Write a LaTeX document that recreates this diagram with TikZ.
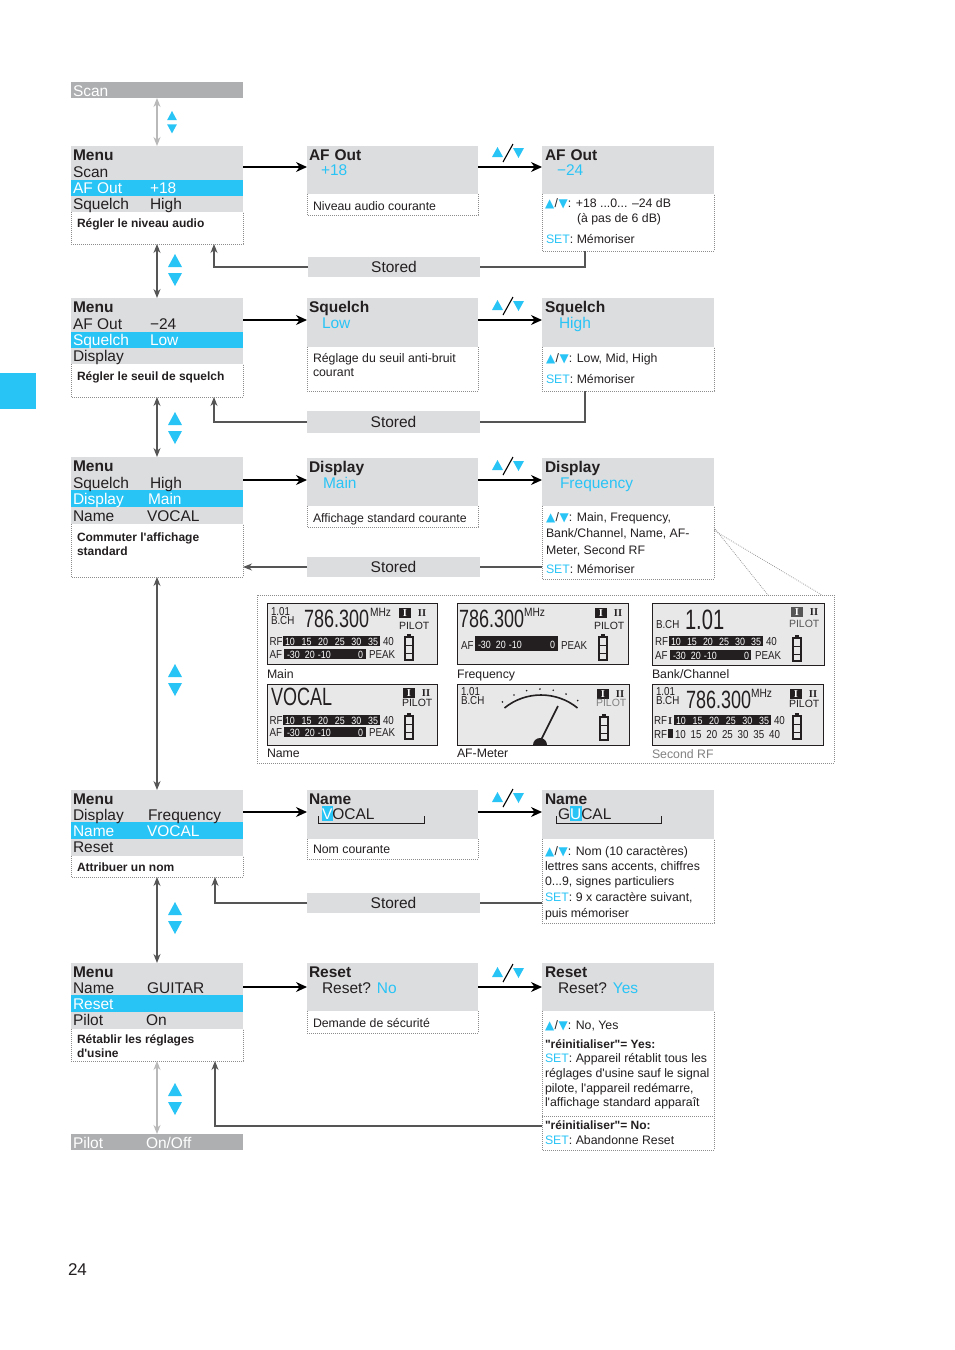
\documentclass[tikz,border=0pt]{standalone}
\usepackage{fontspec}
\setmainfont{Liberation Sans}
\newfontfamily\symf{DejaVu Sans}
\newfontfamily\serf{Liberation Serif}
\newfontfamily\lcdn[FakeStretch=0.72]{Liberation Sans}
\newfontfamily\lcds[FakeStretch=0.85]{Liberation Sans}
\usetikzlibrary{arrows.meta}
\definecolor{cblue}{RGB}{41,196,246}
\definecolor{cgrey}{RGB}{220,221,223}
\definecolor{cdark}{RGB}{35,31,32}
\definecolor{cbar}{RGB}{174,175,177}
\definecolor{cline}{RGB}{85,85,85}
\definecolor{cdot}{RGB}{140,140,140}
\definecolor{clcd}{RGB}{232,232,233}
\definecolor{clight}{RGB}{185,185,185}
\definecolor{cgtxt}{RGB}{130,130,130}
\newcounter{tn}
\newcommand\putt[4][]{\stepcounter{tn}\node[txt,#1] (t\number\value{tn}) at (#2,#3) {#4};}
\newcommand\upt{{\symf\fontsize{12}{12}\selectfont\color{cblue}▲}}
\newcommand\dnt{{\symf\fontsize{12}{12}\selectfont\color{cblue}▼}}
\newcommand\ud{\upt\kern0.5pt/\kern0.5pt\dnt}
\newcommand\setk{{\color{cblue}SET}}
\newcommand\qs{\textquotesingle}
\newcommand\qd{\textquotedbl}
\newcommand\dborder[1]{\draw[dotl] (#1.north west) -- (#1.south west) -- (#1.south east) -- (#1.north east);}
\newcommand\rfn[1]{\makebox[#1pt][s]{10 15 20 25 30 35}}
\newcommand\afn[1]{\makebox[#1pt]{-30\hspace{5pt}20\hspace{3pt}-10\hfill 0}}
\newcommand\lcdbox[2]{\fill[clcd] (0,0) rectangle (#1,#2); \draw[cdark,line width=1pt] (0,0) rectangle (#1,#2);}
\newcommand\ibox[3]{\fill[#3] (#1,#2) rectangle ++(12,10); \putt[anchor=center,iser,text=white]{#1+6}{#2+5.3}{I}\putt[anchor=center,iser]{#1+23}{#2+5.3}{II}}
\tikzset{
  txt/.style={anchor=base west, inner sep=0pt, outer sep=0pt, text=cdark, font=\fontsize{15.5}{18}\selectfont},
  ttl/.style={font=\bfseries\fontsize{15.5}{18}\selectfont},
  dsc/.style={font=\fontsize{12.3}{14}\selectfont},
  dscb/.style={font=\bfseries\fontsize{12}{14}\selectfont},
  lsm/.style={font=\lcds\fontsize{11.5}{11.5}\selectfont},
  lpil/.style={font=\fontsize{10.5}{10.5}\selectfont},
  lmhz/.style={font=\lcds\fontsize{12}{12}\selectfont},
  lbig/.style={font=\lcdn\fontsize{25}{25}\selectfont},
  lbarw/.style={font=\lcds\fontsize{10.5}{10.5}\selectfont, text=white},
  iser/.style={font=\serf\bfseries\fontsize{10.5}{10.5}\selectfont},
  gbox/.style={fill=cgrey, draw=none, anchor=north west, inner sep=0pt, outer sep=0pt, font=\fontsize{15.5}{18}\selectfont, text=cdark},
  gbar/.style={fill=cbar, draw=none, anchor=north west, inner sep=0pt, outer sep=0pt},
  dpart/.style={draw=none, anchor=north west, inner sep=0pt, outer sep=0pt},
  dotl/.style={draw=cdot, line width=0.7pt, dash pattern=on 0.8pt off 1.2pt},
  harr/.style={draw=black, line width=1.1pt, -{Stealth[length=11pt,width=10pt]}},
  rline/.style={draw=cline, line width=1.1pt},
  rarr/.style={rline, -{Stealth[length=9pt,width=7pt]}},
  dblarr/.style={rline, {Stealth[length=9pt,width=7pt]}-{Stealth[length=9pt,width=7pt]}},
  tris/.pic={\fill[cblue] (-7,13) -- (7,13) -- (0,0) -- cycle; \fill[cblue] (-7,19) -- (7,19) -- (0,32) -- cycle;},
  udlabel/.pic={\fill[cblue] (-16,5) -- (-5,5) -- (-10.5,-5) -- cycle; \draw[black, line width=1.1pt] (-5,10) -- (5,-8); \fill[cblue] (5,-4) -- (16,-4) -- (10.5,6) -- cycle;},
  batt/.pic={\fill[cdark] (3,0) rectangle (7,2.5); \fill[cdark] (0,2) rectangle (10,27); \fill[clcd] (2,4) rectangle (8,10.5); \fill[clcd] (2,12) rectangle (8,18.5); \fill[clcd] (2,20) rectangle (8,25);}
}
\begin{document}
\begin{tikzpicture}[x=1pt,y=-1pt]
\useasboundingbox (0,0) rectangle (954,1350);
\fill[white] (0,0) rectangle (954,1350);
\fill[cblue] (0,373) rectangle (36,409);
\putt[font=\fontsize{17}{17}\selectfont]{68}{1275}{24}

% ===== Section 1 : AF Out
\node[gbar, minimum width=172, minimum height=16] (scan) at (71,82) {};
\putt[text=white]{73}{96}{Scan}
\node[gbox, minimum width=172, minimum height=66] (m1) at (71,146) {};
\fill[cblue] (71,180) rectangle (243,196);
\putt[ttl]{73}{160}{Menu}
\putt{73}{177}{Scan}
\putt[text=white]{73}{193}{AF Out}
\putt[text=white]{150}{193}{+18}
\putt{73}{209}{Squelch}
\putt{150}{209}{High}
\node[dpart, minimum width=172, minimum height=32] (d1) at (71,212) {};
\dborder{d1}
\putt[dscb]{77}{227}{Régler le niveau audio}
\node[gbox, minimum width=171, minimum height=48] (a1) at (307,146) {};
\node[dpart, minimum width=171, minimum height=21] (a1d) at (307,194) {};
\dborder{a1d}
\putt[ttl]{309}{160}{AF\hspace{5pt}Out}
\putt[text=cblue]{321}{175}{+18}
\putt[dsc]{313}{210}{Niveau audio courante}
\node[gbox, minimum width=172, minimum height=48] (b1) at (542,146) {};
\node[dpart, minimum width=172, minimum height=57] (b1d) at (542,194) {};
\dborder{b1d}
\putt[ttl]{545}{160}{AF\hspace{5pt}Out}
\putt[text=cblue]{557}{175}{−24}
\putt[dsc]{545}{207}{\ud: +18 ...0... –24 dB}
\putt[dsc]{577}{222}{(à pas de 6 dB)}
\putt[dsc]{546}{243}{\setk: Mémoriser}
\node[gbox, minimum width=172, minimum height=20] (s1) at (308,257) {Stored};
\coordinate (r1) at (0,167);
\draw[harr] (m1.east |- r1) -- (a1.west |- r1);
\draw[harr] (a1.east |- r1) -- (b1.west |- r1);
\pic at (508,152) {udlabel};
\draw[rline] ([xshift=-43pt]b1d.south) |- (s1.east);
\draw[rarr] (s1.west) -| ([xshift=57pt]d1.south);
\draw[dblarr, draw=clight] (scan.south) -- (m1.north);
\pic[scale=0.7] at (172,111) {tris};
\draw[dblarr] (d1.south) -- (157,298);
\pic at (175,254) {tris};

% ===== Section 2 : Squelch
\node[gbox, minimum width=172, minimum height=66] (m2) at (71,298) {};
\fill[cblue] (71,332) rectangle (243,348);
\putt[ttl]{73}{312}{Menu}
\putt{73}{329}{AF Out}
\putt{150}{329}{−24}
\putt[text=white]{73}{345}{Squelch}
\putt[text=white]{150}{345}{Low}
\putt{73}{361}{Display}
\node[dpart, minimum width=172, minimum height=33] (d2) at (71,364) {};
\dborder{d2}
\putt[dscb]{77}{380}{Régler le seuil de squelch}
\node[gbox, minimum width=171, minimum height=49] (a2) at (307,298) {};
\node[dpart, minimum width=171, minimum height=44] (a2d) at (307,347) {};
\dborder{a2d}
\putt[ttl]{309}{312}{Squelch}
\putt[text=cblue]{322}{328}{Low}
\putt[dsc]{313}{362}{Réglage du seuil anti-bruit}
\putt[dsc]{313}{376}{courant}
\node[gbox, minimum width=172, minimum height=49] (b2) at (542,298) {};
\node[dpart, minimum width=172, minimum height=44] (b2d) at (542,347) {};
\dborder{b2d}
\putt[ttl]{545}{312}{Squelch}
\putt[text=cblue]{559}{328}{High}
\putt[dsc]{546}{362}{\ud: Low, Mid, High}
\putt[dsc]{546}{383}{\setk: Mémoriser}
\node[gbox, minimum width=173, minimum height=22] (s2) at (307,411) {Stored};
\coordinate (r2) at (0,320);
\draw[harr] (m2.east |- r2) -- (a2.west |- r2);
\draw[harr] (a2.east |- r2) -- (b2.west |- r2);
\pic at (508,305) {udlabel};
\draw[rline] ([xshift=-43pt]b2d.south) |- (s2.east);
\draw[rarr] (s2.west) -| ([xshift=57pt]d2.south);
\draw[dblarr] (d2.south) -- (157,457);
\pic at (175,412) {tris};

% ===== Section 3 : Display
\node[gbox, minimum width=172, minimum height=67] (m3) at (71,457) {};
\fill[cblue] (71,490) rectangle (243,507);
\putt[ttl]{73}{471}{Menu}
\putt{73}{488}{Squelch}
\putt{150}{488}{High}
\putt[text=white]{73}{504}{Display}
\putt[text=white]{148}{504}{Main}
\putt{73}{521}{Name}
\putt{147}{521}{VOCAL}
\node[dpart, minimum width=172, minimum height=53] (d3) at (71,524) {};
\dborder{d3}
\putt[dscb]{77}{541}{Commuter l\qs affichage}
\putt[dscb]{77}{555}{standard}
\node[gbox, minimum width=171, minimum height=48] (a3) at (307,458) {};
\node[dpart, minimum width=171, minimum height=21] (a3d) at (307,506) {};
\dborder{a3d}
\putt[ttl]{309}{472}{Display}
\putt[text=cblue]{323}{488}{Main}
\putt[dsc]{313}{522}{Affichage standard courante}
\node[gbox, minimum width=172, minimum height=48] (b3) at (542,458) {};
\node[dpart, minimum width=172, minimum height=73] (b3d) at (542,506) {};
\dborder{b3d}
\putt[ttl]{545}{472}{Display}
\putt[text=cblue]{560}{488}{Frequency}
\putt[dsc]{546}{521}{\ud: Main, Frequency,}
\putt[dsc]{546}{537}{Bank/Channel, Name, AF-}
\putt[dsc]{546}{554}{Meter, Second RF}
\putt[dsc]{546}{573}{\setk: Mémoriser}
\node[gbox, minimum width=173, minimum height=20] (s3) at (307,557) {Stored};
\coordinate (r3) at (0,480);
\draw[harr] (m3.east |- r3) -- (a3.west |- r3);
\draw[harr] (a3.east |- r3) -- (b3.west |- r3);
\pic at (508,465) {udlabel};
\draw[rline] (b3d.west |- s3.east) -- (s3.east);
\draw[rarr] (s3.west) -- (d3.east |- s3.west);
\draw[dblarr] (d3.south) -- (157,790);
\pic at (175,664) {tris};

% ===== LCD panel
\coordinate (lz1) at (768,595);
\coordinate (lz2) at (822,595);
\draw[dotl] (257,595) rectangle (834,763);
\draw[dotl] ([yshift=15pt]b3d.east) -- (lz1);
\draw[dotl] ([yshift=12pt]b3d.east) -- (lz2);

% Main
\begin{scope}[shift={(267,603)}]
\lcdbox{170}{61}
\putt[lsm]{4}{12}{1.01}
\putt[lsm]{4}{21}{B.CH}
\putt[lbig]{37}{24}{786.300}
\putt[lmhz]{103}{13}{MHz}
\ibox{132}{5}{cdark}
\putt[lpil]{132}{26}{PILOT}
\pic at (137,31) {batt};
\putt[lsm]{2.5}{42}{RF}
\fill[cdark] (16,33) rectangle (113,43);
\putt[lbarw]{18}{42}{\rfn{93}}
\putt[lsm]{116}{42}{40}
\putt[lsm]{2.5}{55.5}{AF}
\fill[cdark] (17,46) rectangle (99,56);
\putt[lbarw]{20}{55}{\afn{76}}
\putt[lsm]{102}{55.5}{PEAK}
\end{scope}
\putt[dsc]{267}{678}{Main}

% Name
\begin{scope}[shift={(267,684)}]
\lcdbox{170}{61}
\putt[font=\lcdn\fontsize{25}{25}\selectfont]{4}{21}{VOCAL}
\ibox{136}{4}{cdark}
\putt[lpil]{135}{22}{PILOT}
\pic at (137,29) {batt};
\putt[lsm]{2.5}{40}{RF}
\fill[cdark] (16,31) rectangle (113,41);
\putt[lbarw]{18}{40}{\rfn{93}}
\putt[lsm]{116}{40}{40}
\putt[lsm]{2.5}{52.5}{AF}
\fill[cdark] (17,43) rectangle (99,53);
\putt[lbarw]{20}{52}{\afn{76}}
\putt[lsm]{102}{52.5}{PEAK}
\end{scope}
\putt[dsc]{267}{757}{Name}

% Frequency
\begin{scope}[shift={(457,603)}]
\lcdbox{171}{61}
\putt[lbig]{2}{24}{786.300}
\putt[lmhz]{67}{13}{MHz}
\ibox{138}{5}{cdark}
\putt[lpil]{137}{26}{PILOT}
\pic at (141,31) {batt};
\putt[lsm]{4}{46}{AF}
\fill[cdark] (18,33) rectangle (101,48);
\putt[lbarw]{21}{45}{\afn{77}}
\putt[lsm]{104}{46}{PEAK}
\end{scope}
\putt[dsc]{457}{678}{Frequency}

% AF-Meter
\begin{scope}[shift={(457,684)}]
\lcdbox{172}{61}
\putt[lsm]{4}{11}{1.01}
\putt[lsm]{4}{20}{B.CH}
\draw[cdark, line width=1.6pt] (84,69) ++(-129:58) arc (-129:-51:58);
\foreach \a in {-127,-115,-103,-91,-79,-67,-55} {\fill[cdark] (84,69) ++(\a:64) circle (0.9);}
\draw[cdark, line width=1.6pt] (83,58) -- (101,22);
\fill[cdark] (76,61) arc (180:360:7) -- cycle;
\ibox{140}{5}{cdark}
\putt[lpil,text=cgtxt]{139}{22}{PILOT}
\pic at (142,30) {batt};
\end{scope}
\putt[dsc]{457}{757}{AF-Meter}

% Bank/Channel
\begin{scope}[shift={(652,603)}]
\lcdbox{172}{62}
\putt[lsm]{4}{25}{B.CH}
\putt[font=\lcdn\fontsize{28}{28}\selectfont]{33}{26}{1.01}
\ibox{139}{4}{cline}
\putt[lpil,text=cline]{137}{24}{PILOT}
\pic at (140,32) {batt};
\putt[lsm]{3}{42}{RF}
\fill[cdark] (17,33) rectangle (111,43);
\putt[lbarw]{19}{42}{\rfn{90}}
\putt[lsm]{114}{42}{40}
\putt[lsm]{3}{56.5}{AF}
\fill[cdark] (18,47) rectangle (99,57);
\putt[lbarw]{21}{56}{\afn{76}}
\putt[lsm]{103}{56.5}{PEAK}
\end{scope}
\putt[dsc]{652}{678}{Bank/Channel}

% Second RF
\begin{scope}[shift={(652,684)}]
\lcdbox{171}{61}
\putt[lsm]{4}{11}{1.01}
\putt[lsm]{4}{20}{B.CH}
\putt[lbig]{34}{24}{786.300}
\putt[lmhz]{99}{13}{MHz}
\ibox{138}{5}{cdark}
\putt[lpil]{137}{23}{PILOT}
\pic at (140,29) {batt};
\putt[lsm]{2}{40}{RF}
\putt[iser]{16}{40}{I}
\fill[cdark] (22,31) rectangle (119,41);
\putt[lbarw]{24}{40}{\rfn{93}}
\putt[lsm]{122}{40}{40}
\putt[lsm]{2}{54}{RF}
\fill[cdark] (16,45) rectangle (21,54);
\putt[lsm]{23}{54}{\makebox[105pt][s]{10 15 20 25 30 35 40}}
\end{scope}
\putt[dsc,text=cgtxt]{652}{758}{Second RF}

% ===== Section 5 : Name
\node[gbox, minimum width=172, minimum height=66] (m5) at (71,790) {};
\fill[cblue] (71,822) rectangle (243,839);
\putt[ttl]{73}{804}{Menu}
\putt{73}{820}{Display}
\putt{148}{820}{Frequency}
\putt[text=white]{73}{836}{Name}
\putt[text=white]{147}{836}{VOCAL}
\putt{73}{852}{Reset}
\node[dpart, minimum width=172, minimum height=21] (d5) at (71,856) {};
\dborder{d5}
\putt[dscb]{77}{871}{Attribuer un nom}
\node[gbox, minimum width=171, minimum height=49] (a5) at (307,790) {};
\node[dpart, minimum width=171, minimum height=20] (a5d) at (307,839) {};
\dborder{a5d}
\putt[ttl]{309}{804}{Name}
\fill[cblue] (321.5,806) rectangle (333,821);
\putt{322}{819}{{\color{white}V}OCAL}
\draw[cdark, line width=1pt] (318,816) -- (318,823) -- (424,823) -- (424,816);
\putt[dsc]{313}{853}{Nom courante}
\node[gbox, minimum width=172, minimum height=49] (b5) at (542,790) {};
\node[dpart, minimum width=172, minimum height=84] (b5d) at (542,839) {};
\dborder{b5d}
\putt[ttl]{545}{804}{Name}
\fill[cblue] (569.5,806) rectangle (582,821);
\putt{558}{819}{G{\color{white}U}CAL}
\draw[cdark, line width=1pt] (556,816) -- (556,823) -- (661,823) -- (661,816);
\putt[dsc]{545}{855}{\ud: Nom (10 caractères)}
\putt[dsc]{545}{870}{lettres sans accents, chiffres}
\putt[dsc]{545}{885}{0...9, signes particuliers}
\putt[dsc]{545}{901}{\setk: 9 x caractère suivant,}
\putt[dsc]{545}{917}{puis mémoriser}
\node[gbox, minimum width=173, minimum height=20] (s5) at (307,893) {Stored};
\coordinate (r5) at (0,812);
\draw[harr] (m5.east |- r5) -- (a5.west |- r5);
\draw[harr] (a5.east |- r5) -- (b5.west |- r5);
\pic at (508,797) {udlabel};
\draw[rline] (b5d.west |- s5.east) -- (s5.east);
\draw[rarr] (s5.west) -| ([xshift=58pt]d5.south);
\draw[dblarr] (d5.south) -- (157,963);
\pic at (175,902) {tris};

% ===== Section 6 : Reset
\node[gbox, minimum width=172, minimum height=66] (m6) at (71,963) {};
\fill[cblue] (71,995) rectangle (243,1012);
\putt[ttl]{73}{977}{Menu}
\putt{73}{993}{Name}
\putt{147}{993}{GUITAR}
\putt[text=white]{73}{1009}{Reset}
\putt{73}{1025}{Pilot}
\putt{146}{1025}{On}
\node[dpart, minimum width=172, minimum height=32] (d6) at (71,1029) {};
\dborder{d6}
\putt[dscb]{77}{1043}{Rétablir les réglages}
\putt[dscb]{77}{1057}{d\qs usine}
\node[gbox, minimum width=171, minimum height=48] (a6) at (307,963) {};
\node[dpart, minimum width=171, minimum height=22] (a6d) at (307,1011) {};
\dborder{a6d}
\putt[ttl]{309}{977}{Reset}
\putt{322}{993}{Reset? {\color{cblue}No}}
\putt[dsc]{313}{1027}{Demande de sécurité}
\node[gbox, minimum width=172, minimum height=48] (b6) at (542,963) {};
\node[dpart, minimum width=172, minimum height=139] (b6d) at (542,1011) {};
\dborder{b6d}
\draw[dotl] (542,1116) -- (714,1116);
\putt[ttl]{545}{977}{Reset}
\putt{558}{993}{Reset? {\color{cblue}Yes}}
\putt[dsc]{545}{1029}{\ud: No, Yes}
\putt[dscb]{545}{1048}{\qd réinitialiser\qd= Yes:}
\putt[dsc]{545}{1062}{\setk: Appareil rétablit tous les}
\putt[dsc]{545}{1077}{réglages d\qs usine sauf le signal}
\putt[dsc]{545}{1092}{pilote, l\qs appareil redémarre,}
\putt[dsc]{545}{1106}{l\qs affichage standard apparaît}
\putt[dscb]{545}{1129}{\qd réinitialiser\qd= No:}
\putt[dsc]{545}{1144}{\setk: Abandonne Reset}
\coordinate (r6) at (0,987);
\draw[harr] (m6.east |- r6) -- (a6.west |- r6);
\draw[harr] (a6.east |- r6) -- (b6.west |- r6);
\pic at (508,972) {udlabel};
\coordinate (ry6) at (0,1126);
\draw[rarr] (b6d.west |- ry6) -| ([xshift=58pt]d6.south);
\node[gbar, minimum width=172, minimum height=16] (pil) at (71,1134) {};
\putt[text=white]{73}{1148}{Pilot}
\putt[text=white]{146}{1148}{On/Off}
\draw[dblarr, draw=clight] (d6.south) -- (pil.north);
\pic at (175,1083) {tris};
\end{tikzpicture}
\end{document}
